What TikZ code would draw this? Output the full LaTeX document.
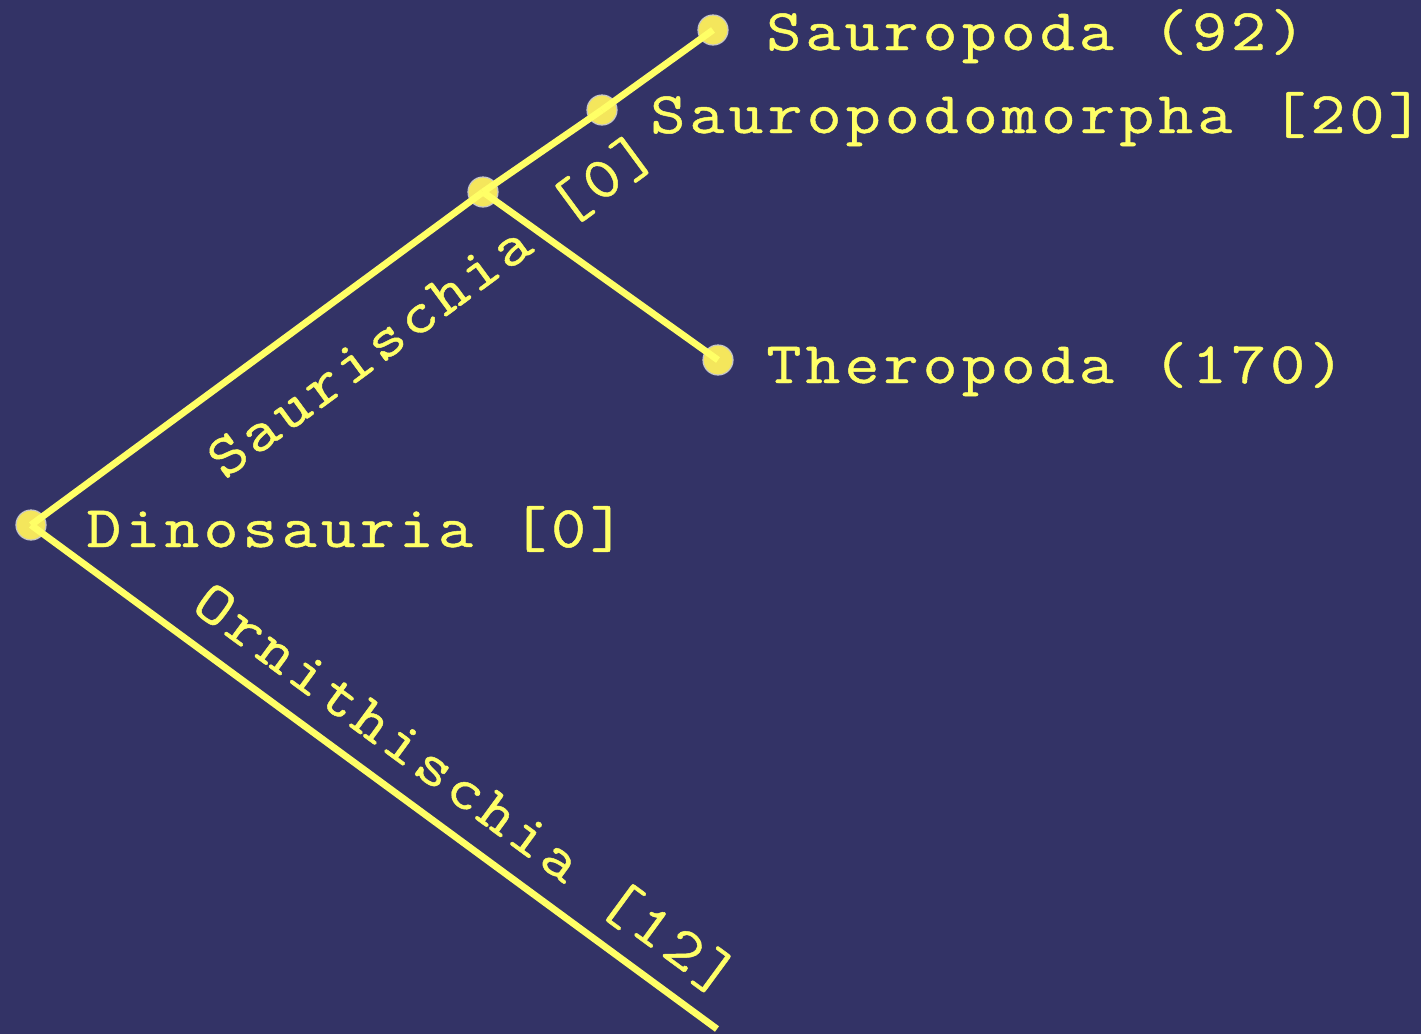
\documentclass[tikz,border=0pt]{standalone}
\usepackage{fontspec}
\newfontfamily\treefont{Latin Modern Mono}[FakeStretch=1.15, LetterSpace=7, FakeBold=0.8]
\definecolor{bgblue}{HTML}{333366}
\definecolor{linkyellow}{HTML}{FFFF66}
\definecolor{dotyellow}{HTML}{F4E65C}
\begin{document}
\begin{tikzpicture}[x=0.5pt,y=-0.5pt,
  branch/.style={draw=linkyellow, line width=3.4pt},
  dot/.style={circle, fill=dotyellow, draw=gray!45, line width=0.6pt, minimum size=15pt, inner sep=0pt},
  taxon/.style={font=\treefont\fontsize{29.5}{36}\selectfont, text=linkyellow, anchor=base west, inner sep=0pt},
  cladelabel/.style={font=\treefont\fontsize{29.5}{36}\selectfont, text=linkyellow, inner sep=0pt, sloped}]
  \fill[bgblue] (0,0) rectangle (1421,1034);
  \useasboundingbox (0,0) rectangle (1421,1034);
  % tree nodes
  \node[dot] (dino) at (31,525) {};
  \node[dot] (sauri) at (483,192) {};
  \node[dot] (sauromorph) at (602,110) {};
  \node[dot] (sauropoda) at (713,30) {};
  \node[dot] (thero) at (718,360) {};
  \coordinate (ornithEnd) at (717,1029);
  % branches
  \draw[branch] (dino.center) -- (sauri.center)
    node[cladelabel, pos=0.805, below=17pt] {Saurischia [0]};
  \draw[branch] (sauri.center) -- (sauromorph.center);
  \draw[branch] (sauromorph.center) -- (sauropoda.center);
  \draw[branch] (sauri.center) -- (thero.center);
  \draw[branch] (dino.center) -- (ornithEnd)
    node[cladelabel, pos=0.595, above=9pt] {Ornithischia [12]};
  % taxon names
  \node[taxon] (dinoT) at (86,547) {Dinosauria [0]};
  \node[taxon] (sauromorphT) at (650,133) {Sauropodomorpha [20]};
  \node[taxon] (sauropodaT) at (766,50) {Sauropoda (92)};
  \node[taxon] (theroT) at (766,383) {Theropoda (170)};
\end{tikzpicture}
\end{document}
